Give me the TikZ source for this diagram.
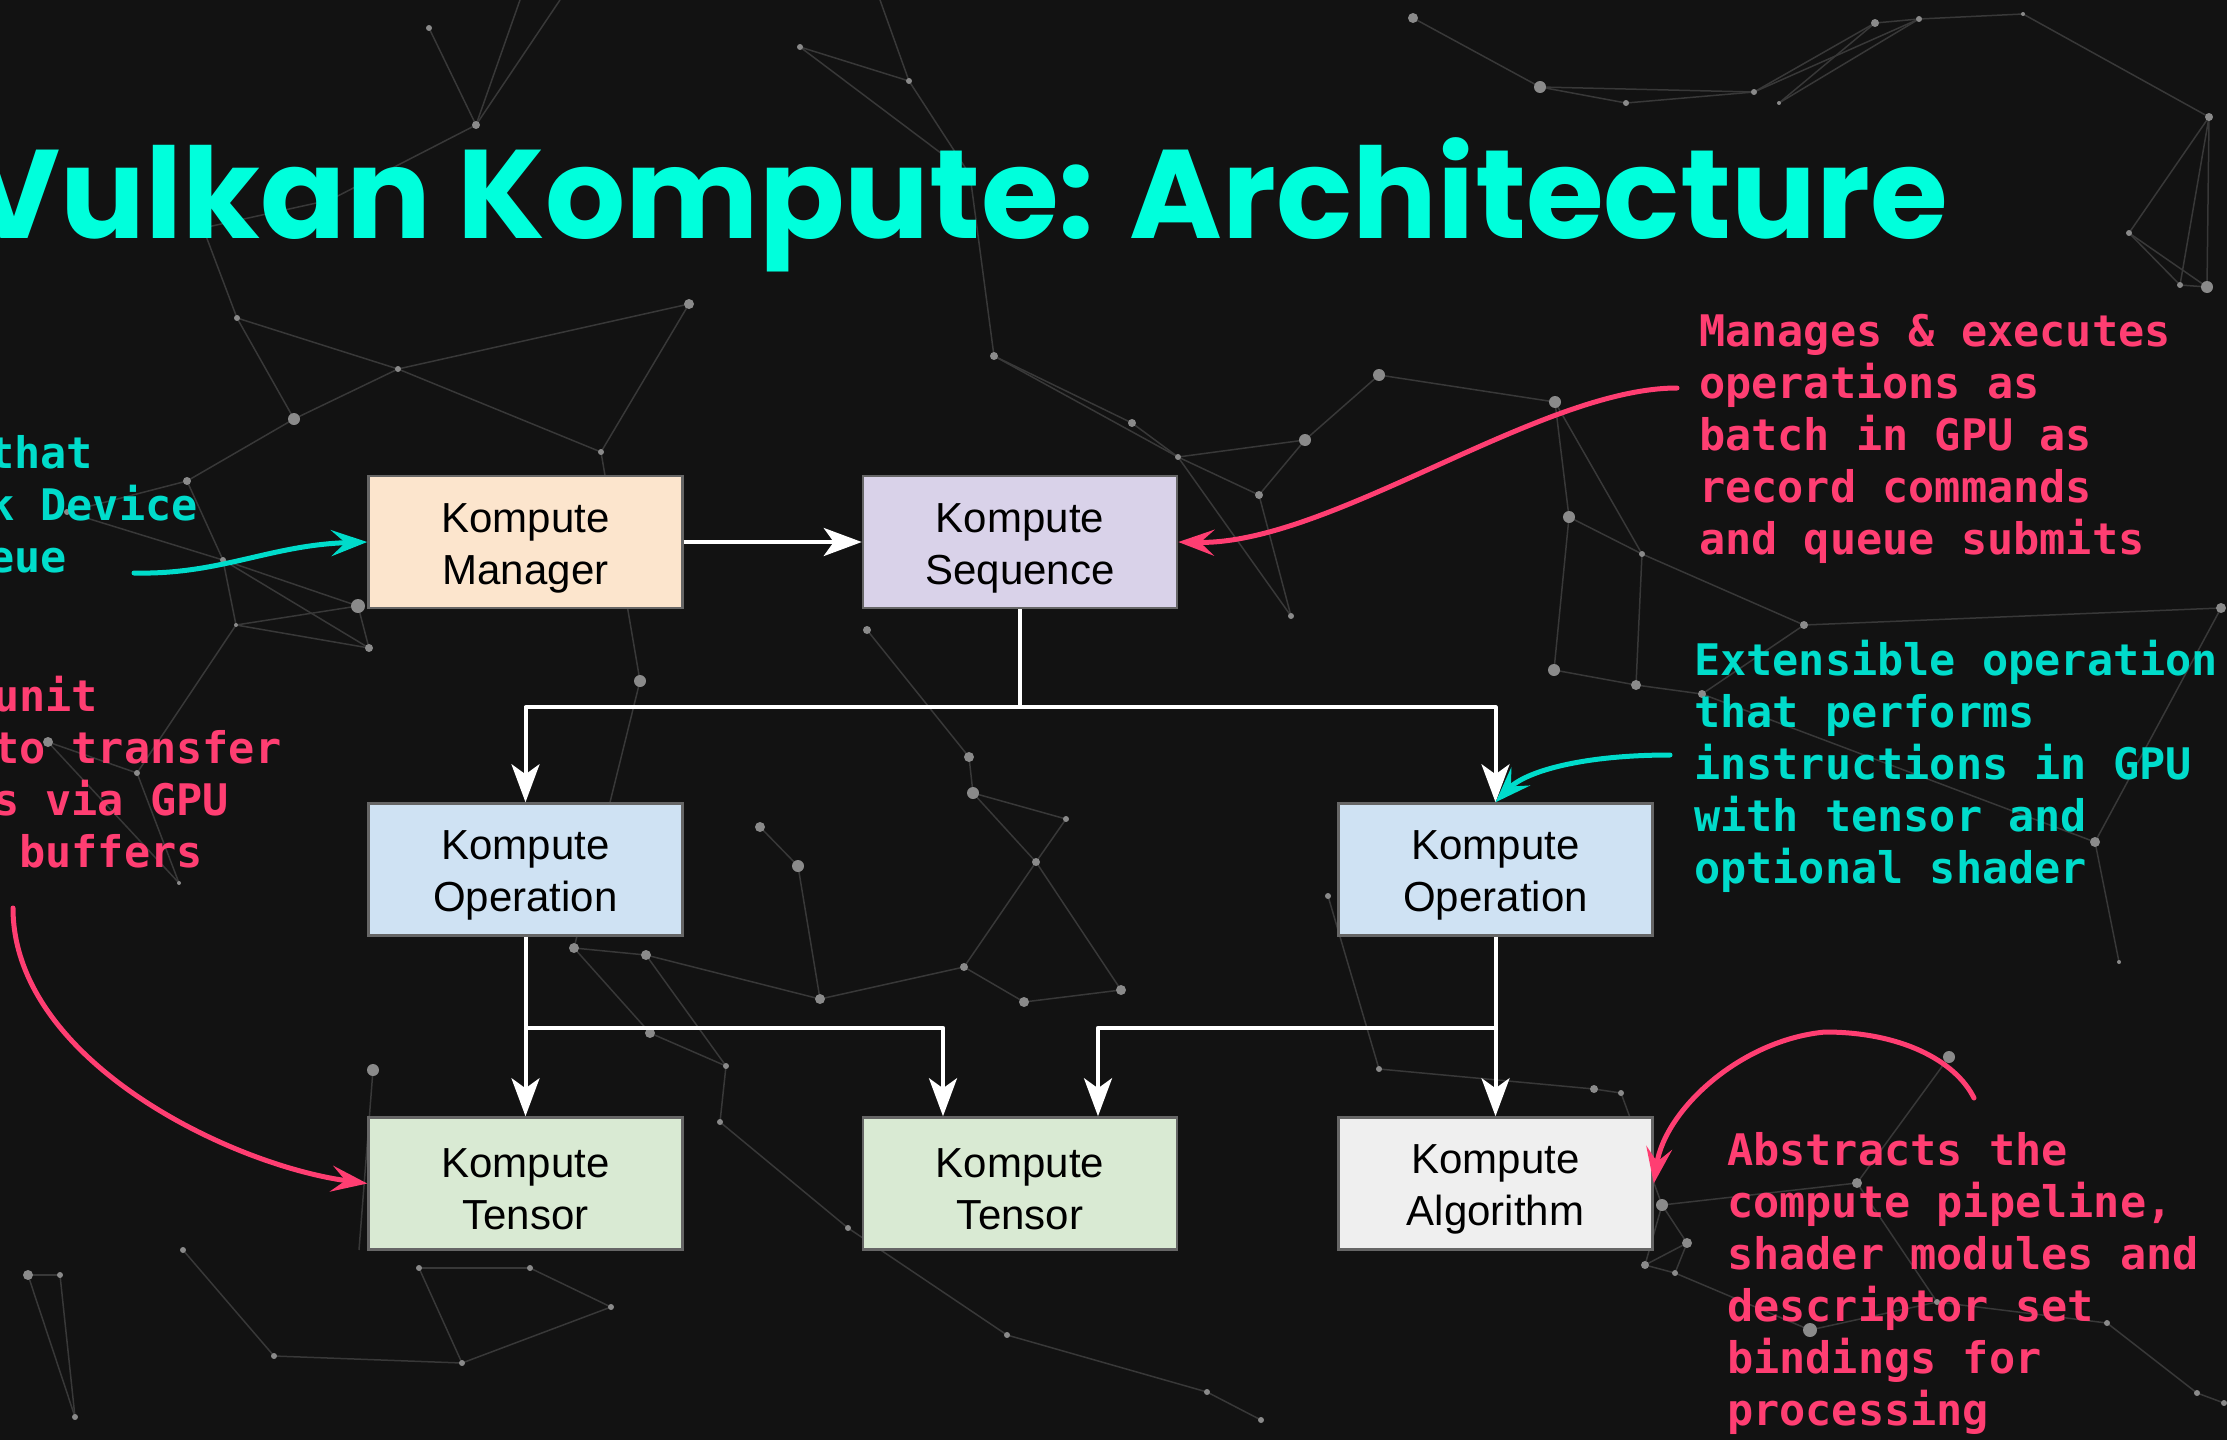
\documentclass[tikz,border=0pt]{standalone}
\usepackage{fontspec}
\usetikzlibrary{arrows.meta}
\newfontfamily\boxfont{Liberation Sans}
\newfontfamily\notefont{DejaVu Sans Mono}
\newfontfamily\titlefont{Poppins}
\definecolor{bg}{HTML}{121212}
\definecolor{titlecyan}{HTML}{00FFDC}
\definecolor{notecyan}{HTML}{00DCCB}
\definecolor{notepink}{HTML}{FF3E72}
\definecolor{plexline}{HTML}{383838}
\definecolor{plexdot}{HTML}{8A8A8A}
\definecolor{cmanager}{HTML}{FCE5CD}
\definecolor{csequence}{HTML}{D9D2E9}
\definecolor{coperation}{HTML}{CFE2F3}
\definecolor{ctensor}{HTML}{D9EAD3}
\definecolor{calgo}{HTML}{EFEFEF}
\definecolor{cborder}{HTML}{666666}
\newcommand{\boxstrut}{\rule{0pt}{41pt}}
\begin{document}
\begin{tikzpicture}[x=1pt,y=-1pt,
  kbox/.style={draw=cborder, line width=2.5pt, minimum width=314pt, minimum height=132pt,
    inner sep=0pt, align=center, font=\boxfont\fontsize{42}{52}\selectfont, text=black},
  wline/.style={draw=white, line width=4pt, line join=round},
  warrow/.style={wline, -{Stealth[length=38pt,width=28pt,inset=10pt]}},
  notearrow/.style={line width=5pt, line cap=round, -{Stealth[length=36pt,width=26pt,inset=14pt]}},
  cyanarrow/.style={notearrow, draw=notecyan, color=notecyan},
  pinkarrow/.style={notearrow, draw=notepink, color=notepink},
  note/.style={anchor=north west, align=left, inner sep=0pt,
    font=\notefont\bfseries\fontsize{43.5}{52}\selectfont},
  plex/.style={draw=plexline, line width=1.5pt},
]
\useasboundingbox (0,0) rectangle (2227,1440);
\clip (0,0) rectangle (2227,1440);
\fill[bg] (0,0) rectangle (2227,1440);

% plexus background
\foreach \xa/\ya/\xb/\yb in {
 429/28/476/125, 476/125/330/200, 330/200/203/228, 476/125/560/0, 476/125/520/0,
 800/47/909/81, 909/81/970/175, 800/47/970/175, 909/81/880/0, 970/175/994/356,
 1413/18/1540/87, 1540/87/1626/103, 1626/103/1754/92, 1540/87/1754/92, 1754/92/1875/23,
 1754/92/1919/19, 1779/103/1875/23, 1779/103/1919/19, 1875/23/1919/19, 1919/19/2023/14,
 2023/14/2209/117, 2209/117/2129/233, 2209/117/2180/285, 2129/233/2180/285, 2129/233/2207/287,
 2180/285/2207/287, 2209/117/2207/287,
 203/228/237/318, 237/318/294/419, 294/419/398/369, 237/318/398/369, 294/419/187/481,
 187/481/67/512, 187/481/223/560, 67/512/223/560, 223/560/236/625, 223/560/358/606,
 236/625/358/606, 236/625/369/648, 223/560/369/648, 358/606/369/648, 236/625/137/773,
 48/742/137/773, 137/773/179/883, 48/742/179/883, 398/369/601/452, 601/452/640/681,
 689/304/601/452, 689/304/398/369,
 994/356/1132/423, 994/356/1178/457, 1132/423/1178/457, 1178/457/1259/495, 1259/495/1305/440,
 1305/440/1379/375, 1379/375/1555/402, 1305/440/1178/457, 1259/495/1291/616, 1178/457/1291/616,
 1555/402/1569/517, 1569/517/1642/554, 1642/554/1804/625, 1555/402/1642/554, 1569/517/1554/670,
 1554/670/1636/685, 1636/685/1702/694, 1642/554/1636/685, 1804/625/1702/694, 1804/625/2221/608,
 1702/694/2095/842, 2095/842/2119/962, 2221/608/2095/842,
 867/630/969/757, 969/757/973/793, 973/793/1066/819, 973/793/1036/862, 1066/819/1036/862,
 1036/862/964/967, 760/827/798/866, 798/866/820/999, 820/999/964/967, 964/967/1024/1002,
 1024/1002/1121/990, 1036/862/1121/990, 574/948/646/955, 646/955/726/1066, 650/1033/726/1066,
 574/948/650/1033, 646/955/820/999, 726/1066/720/1122, 720/1122/848/1228, 640/681/574/948,
 1379/1069/1594/1089, 1594/1089/1621/1093, 1379/1069/1328/896, 1621/1093/1662/1205,
 1662/1205/1687/1243, 1662/1205/1645/1265, 1687/1243/1645/1265, 1687/1243/1675/1273,
 1645/1265/1675/1273, 1675/1273/1810/1330, 1810/1330/1937/1302, 1937/1302/2107/1323,
 2107/1323/2197/1393, 2197/1393/2224/1403, 1857/1183/1937/1302, 1857/1183/1662/1205,
 1949/1057/1857/1183,
 28/1275/60/1275, 28/1275/75/1417, 60/1275/75/1417, 183/1250/274/1356, 419/1268/530/1268,
 419/1268/462/1363, 530/1268/611/1307, 462/1363/274/1356, 611/1307/462/1363,
 1007/1335/1207/1392, 1207/1392/1261/1420, 1007/1335/848/1228, 373/1070/359/1250}
 \draw[plex] (\xa,\ya) -- (\xb,\yb);
\foreach \x/\y/\r in {
 429/28/3, 476/125/4, 800/47/3, 909/81/3, 970/175/4, 1413/18/5, 1540/87/6, 1626/103/3,
 1754/92/3, 1779/103/2, 1875/23/4, 1919/19/3, 2023/14/2, 2209/117/4, 2129/233/3, 2180/285/3,
 2207/287/6, 203/228/6, 330/200/3, 237/318/3, 294/419/6, 398/369/3, 187/481/4, 67/512/3,
 223/560/3, 236/625/2, 358/606/7, 369/648/4, 48/742/5, 137/773/3, 179/883/2, 689/304/5,
 601/452/3, 640/681/6, 867/630/4, 994/356/4, 1132/423/4, 1178/457/3, 1259/495/4, 1305/440/6,
 1379/375/6, 1291/616/3, 1555/402/6, 1569/517/6, 1642/554/3, 1804/625/4, 1554/670/6,
 1636/685/5, 1702/694/4, 2221/608/5, 2095/842/5, 2119/962/2, 969/757/5, 973/793/6,
 1066/819/3, 1036/862/4, 760/827/5, 798/866/6, 820/999/5, 964/967/4, 1024/1002/5,
 1121/990/5, 574/948/5, 646/955/5, 650/1033/5, 726/1066/3, 373/1070/6, 720/1122/3,
 848/1228/3, 1328/896/3, 1379/1069/3, 1594/1089/4, 1621/1093/3, 1662/1205/6, 1687/1243/5,
 1645/1265/4, 1675/1273/3, 1857/1183/5, 1949/1057/6, 1810/1330/7, 1937/1302/3, 2107/1323/3,
 2197/1393/3, 2224/1403/3, 28/1275/5, 60/1275/3, 75/1417/3, 183/1250/3, 274/1356/3,
 419/1268/3, 530/1268/3, 611/1307/3, 462/1363/3, 1007/1335/3, 1207/1392/3, 1261/1420/3}
 \fill[plexdot] (\x,\y) circle[radius=\r pt];

% title
\node[anchor=base east, inner sep=0pt, text=titlecyan,
  font=\titlefont\bfseries\fontsize{126}{150}\selectfont] (title) at (1948,238)
  {Vulkan Kompute: Architecture};

% boxes
\node[kbox, fill=cmanager]   (mgr)  at (525.5,542)   {\boxstrut Kompute\\Manager};
\node[kbox, fill=csequence]  (seq)  at (1020,542)    {\boxstrut Kompute\\Sequence};
\node[kbox, fill=coperation] (opL)  at (525.5,869.5) {\boxstrut Kompute\\Operation};
\node[kbox, fill=coperation] (opR)  at (1495.5,869.5){\boxstrut Kompute\\Operation};
\node[kbox, fill=ctensor]    (tL)   at (525.5,1183.5){\boxstrut Kompute\\Tensor};
\node[kbox, fill=ctensor]    (tM)   at (1020,1183.5) {\boxstrut Kompute\\Tensor};
\node[kbox, fill=calgo]      (algo) at (1495.5,1183.5){\boxstrut Kompute\\Algorithm};

% white connectors
\draw[warrow] (mgr.east) -- (seq.west);
\draw[warrow] (seq.south) -- ++(0,98) -| (opL.north);
\draw[warrow] (seq.south) -- ++(0,98) -| (opR.north);
\draw[warrow] (opL.south) -- (tL.north);
\draw[warrow] (opL.south) -- ++(0,91) -| ([xshift=-77pt]tM.north);
\draw[warrow] (opR.south) -- (algo.north);
\draw[warrow] (opR.south) -- ++(0,91) -| ([xshift=78pt]tM.north);

% annotations
\node[note, text=notepink] (n1) at (1699,306)
  {\rule{0pt}{40pt}Manages \& executes\\operations as\\batch in GPU as\\record commands\\and queue submits};
\node[note, text=notecyan] (n2) at (1694,635)
  {\rule{0pt}{40pt}Extensible operation\\that performs\\instructions in GPU\\with tensor and\\optional shader};
\node[note, text=notepink] (n3) at (1727,1125)
  {\rule{0pt}{40pt}Abstracts the\\compute pipeline,\\shader modules and\\descriptor set\\bindings for\\processing};
\node[note, text=notecyan] (n4) at (-12,428)
  {\rule{0pt}{40pt}that\\k Device\\eue};
\node[note, text=notepink] (n5) at (-7,671)
  {\rule{0pt}{40pt}unit\\to transfer\\s via GPU\\\phantom{x}buffers};

% annotation arrows
\coordinate (a4s) at (134,573);
\coordinate (a1s) at (1677,388);
\coordinate (a2s) at (1670,755);
\coordinate (a5s) at (13,908);
\coordinate (a3s) at (1974,1098);
\draw[cyanarrow] (a4s) .. controls (220,575) and (270,545) .. (mgr.west);
\draw[pinkarrow] (a1s) .. controls (1540,388) and (1330,545) .. (seq.east);
\draw[cyanarrow] (a2s) .. controls (1580,755) and (1525,772) .. (opR.north);
\draw[pinkarrow] (a5s) .. controls (13,1060) and (230,1165) .. (tL.west);
\draw[pinkarrow] (a3s) .. controls (1955,1060) and (1900,1032) .. (1825,1032)
  .. controls (1740,1040) and (1665,1110) .. (algo.east);
\end{tikzpicture}
\end{document}
